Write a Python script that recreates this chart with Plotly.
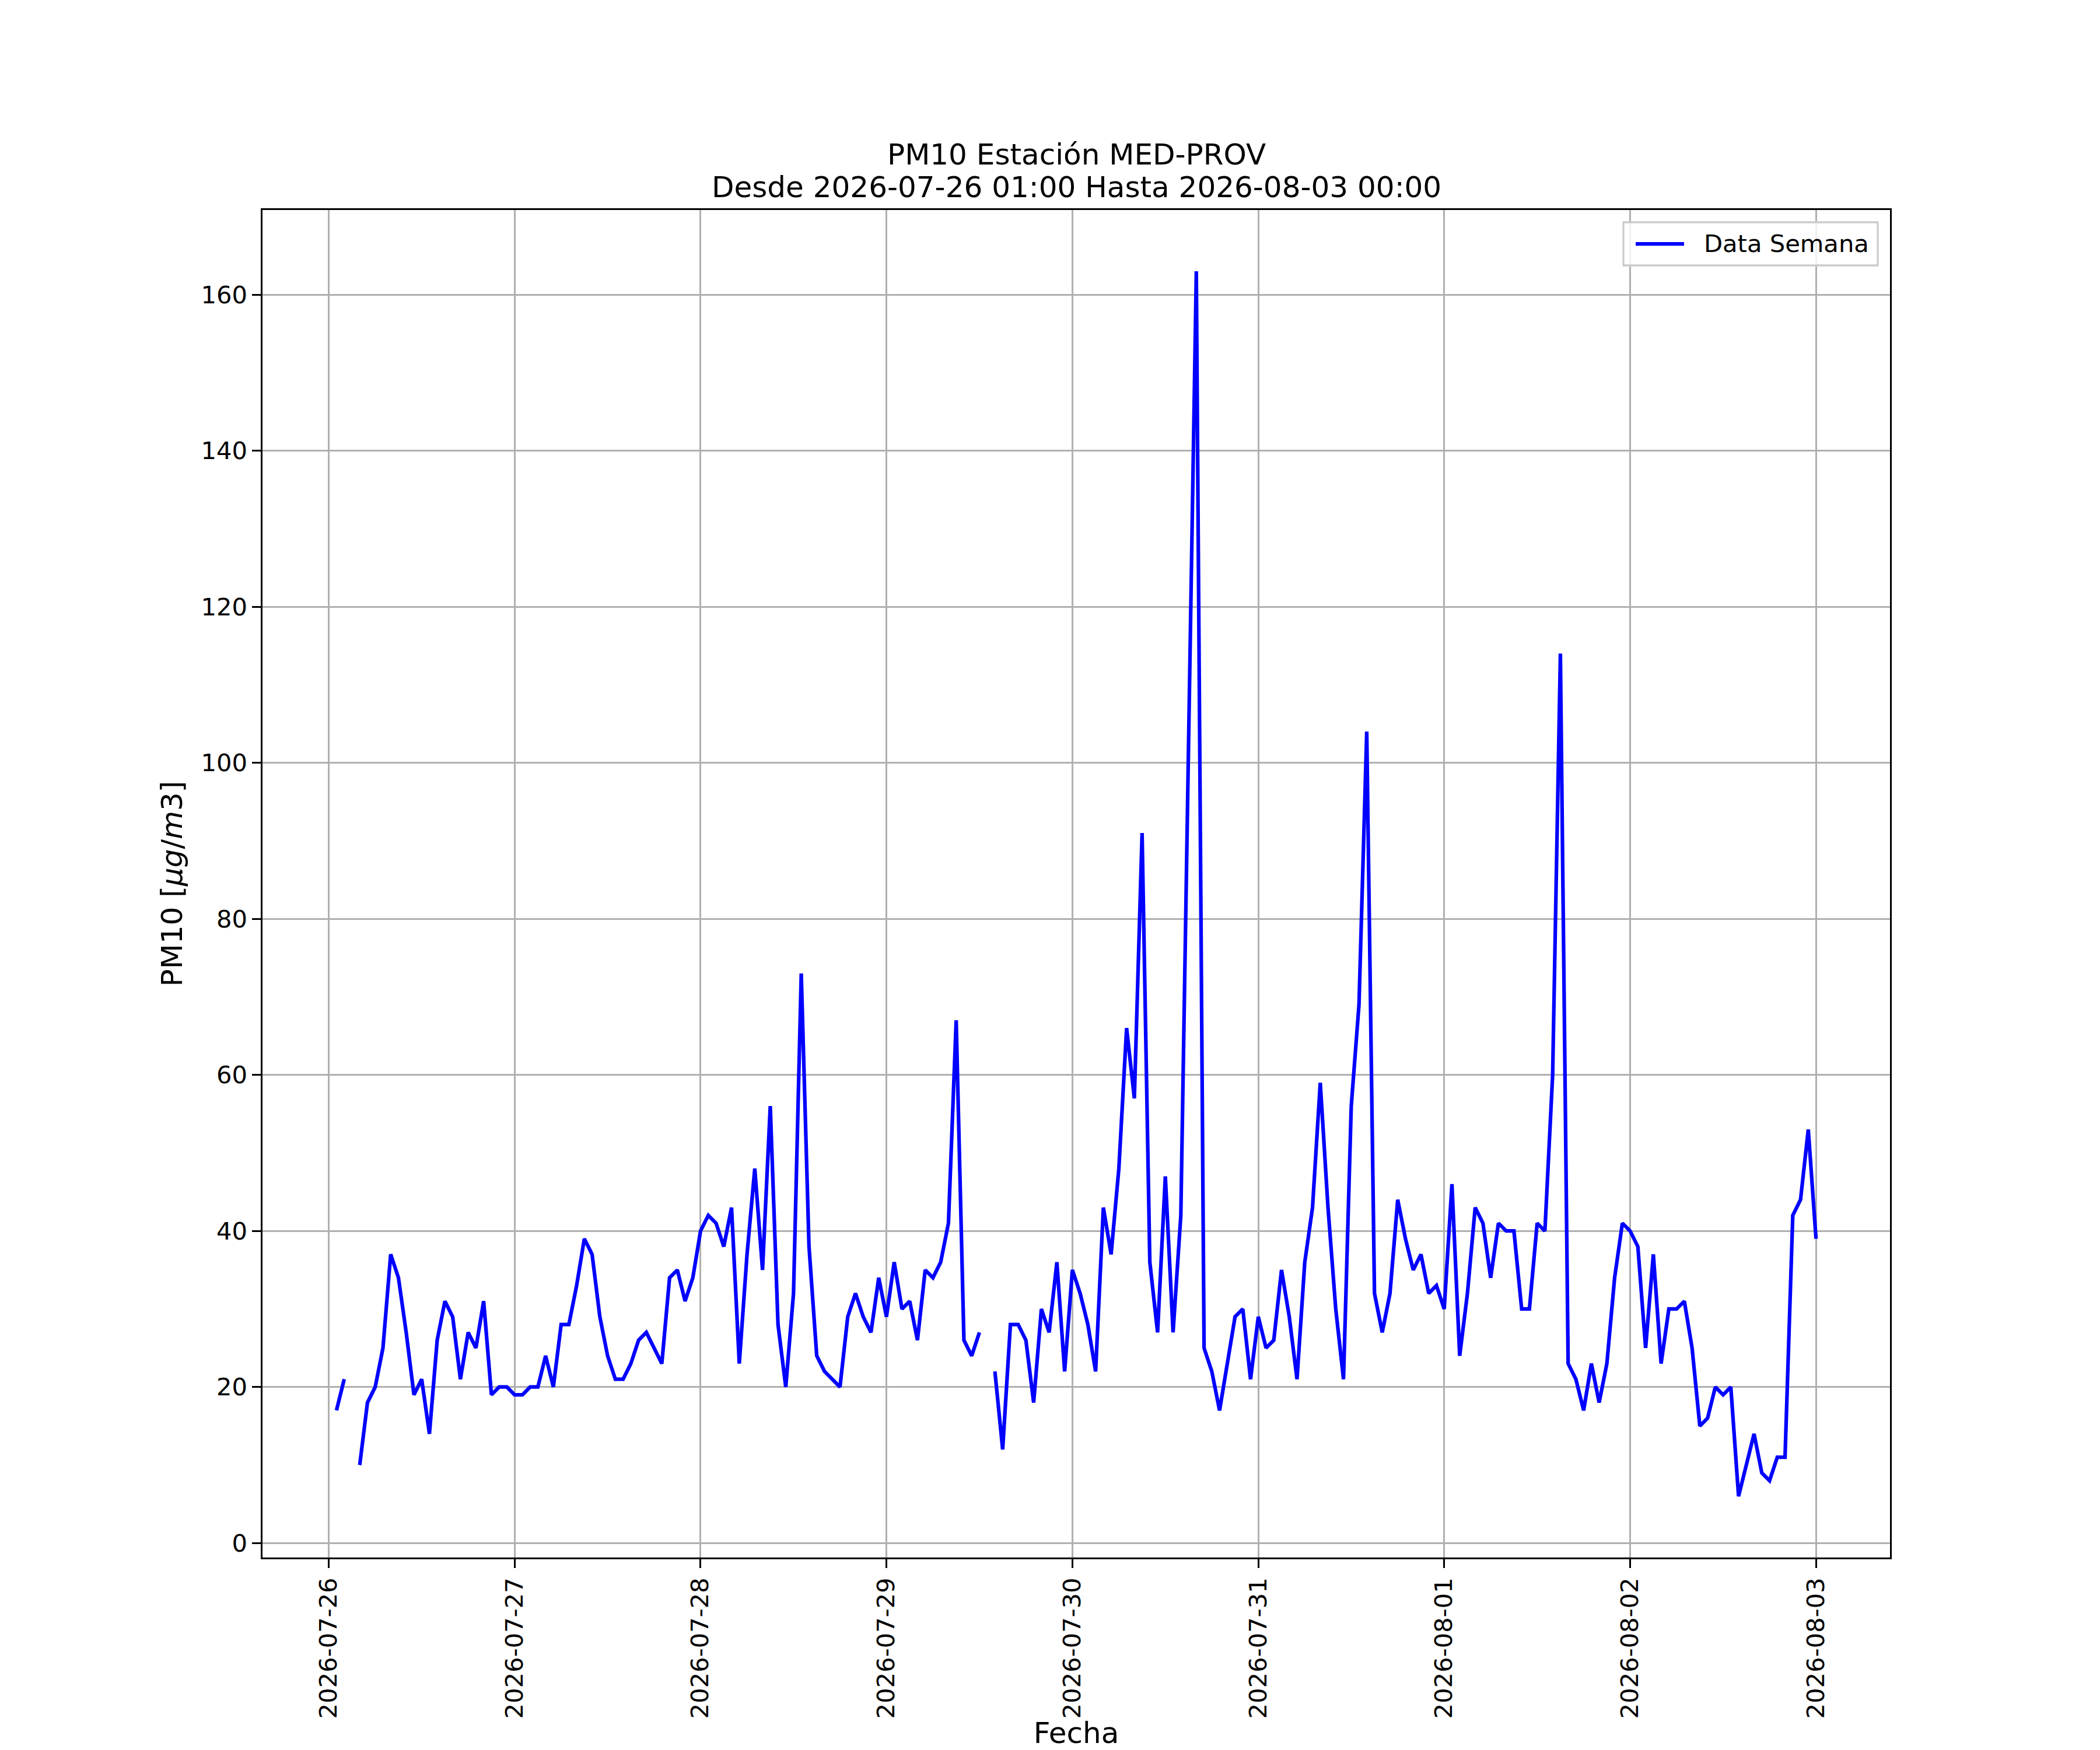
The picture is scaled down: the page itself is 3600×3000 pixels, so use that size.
import pandas as pd
import plotly.graph_objects as go

# ─────────────────────────────────────────────────────────────
# DATA  (hourly PM10, MED-PROV)
# ─────────────────────────────────────────────────────────────
start_time = "2026-07-26 01:00"
end_time = "2026-08-03 00:00"

# one list per day, hours 01..24 (None = missing value)
pm10_jul26 = [17, 21, None, 10, 18, 20, 25, 37, 34, 27, 19, 21,
              14, 26, 31, 29, 21, 27, 25, 31, 19, 20, 20, 19]
pm10_jul27 = [19, 20, 20, 24, 20, 28, 28, 33, 39, 37, 29, 24,
              21, 21, 23, 26, 27, 25, 23, 34, 35, 31, 34, 40]
pm10_jul28 = [42, 41, 38, 43, 23, 37, 48, 35, 56, 28, 20, 32,
              73, 38, 24, 22, 21, 20, 29, 32, 29, 27, 34, 29]
pm10_jul29 = [36, 30, 31, 26, 35, 34, 36, 41, 67, 26, 24, 27,
              None, 22, 12, 28, 28, 26, 18, 30, 27, 36, 22, 35]
pm10_jul30 = [32, 28, 22, 43, 37, 48, 66, 57, 91, 36, 27, 47,
              27, 42, 100, 163, 25, 22, 17, 23, 29, 30, 21, 29]
pm10_jul31 = [25, 26, 35, 29, 21, 36, 43, 59, 43, 30, 21, 56,
              69, 104, 32, 27, 32, 44, 39, 35, 37, 32, 33, 30]
pm10_aug01 = [46, 24, 32, 43, 41, 34, 41, 40, 40, 30, 30, 41,
              40, 60, 114, 23, 21, 17, 23, 18, 23, 34, 41, 40]
pm10_aug02 = [38, 25, 37, 23, 30, 30, 31, 25, 15, 16, 20, 19,
              20, 6, 10, 14, 9, 8, 11, 11, 42, 44, 53, 39]

pm10 = (pm10_jul26 + pm10_jul27 + pm10_jul28 + pm10_jul29
        + pm10_jul30 + pm10_jul31 + pm10_aug01 + pm10_aug02)
fechas = pd.date_range(start_time, end_time, freq="h")

titulo_1 = "PM10 Estación MED-PROV"
titulo_2 = f"Desde {start_time} Hasta {end_time}"
serie_nombre = "Data Semana"

# matplotlib-style 5% autoscale margins
x_pad = (fechas[-1] - fechas[0]) * 0.05
vals = [v for v in pm10 if v is not None]
y_pad = (max(vals) - min(vals)) * 0.05

# =========================================================
# FIGURE
# =========================================================
PT = 300 / 72  # figure drawn at 300 dpi
FONT = "DejaVu Sans"
W, H = 3600, 3000
ML, MR, MT, MB = 450, 360, 360, 330
PW, PH = W - ML - MR, H - MT - MB

fig = go.Figure()

fig.add_trace(go.Scatter(
    x=fechas,
    y=pm10,
    mode="lines",
    name=serie_nombre,
    line=dict(color="blue", width=1.5 * PT),
    connectgaps=False,
    showlegend=False
))

axis_common = dict(
    showline=True,
    linecolor="black",
    linewidth=0.8 * PT,
    mirror=True,
    ticks="outside",
    ticklen=3.5 * PT,
    tickwidth=0.8 * PT,
    tickcolor="black",
    showgrid=True,
    gridcolor="#b0b0b0",
    gridwidth=0.8 * PT,
    zeroline=False,
    tickfont=dict(family=FONT, size=10 * PT, color="black"),
)

# ---- legend drawn by hand (matplotlib "upper right" look) ----
pad = 21                       # borderaxespad in px
leg_w, leg_h = 436, 74
lx1 = 1 - pad / PW
lx0 = 1 - (pad + leg_w) / PW
ly1 = 1 - pad / PH
ly0 = 1 - (pad + leg_h) / PH
ly_mid = (ly0 + ly1) / 2

shapes = [
    dict(type="rect", xref="x domain", yref="y domain",
         x0=lx0, x1=lx1, y0=ly0, y1=ly1,
         fillcolor="rgba(255,255,255,0.8)",
         line=dict(color="#cccccc", width=0.8 * PT)),
    dict(type="line", xref="x domain", yref="y domain",
         x0=lx0 + 21 / PW, x1=lx0 + 104 / PW, y0=ly_mid, y1=ly_mid,
         line=dict(color="blue", width=1.5 * PT)),
]

annotations = [
    dict(text=serie_nombre, xref="x domain", yref="y domain",
         x=lx0 + 136 / PW, y=ly_mid, xanchor="left", yanchor="middle",
         showarrow=False, font=dict(family=FONT, size=10 * PT, color="black")),
    dict(text=titulo_1, xref="paper", yref="paper", x=0.5, y=1,
         xanchor="center", yanchor="middle", yshift=95, showarrow=False,
         font=dict(family=FONT, size=12 * PT, color="black")),
    dict(text=titulo_2, xref="paper", yref="paper", x=0.5, y=1,
         xanchor="center", yanchor="middle", yshift=39, showarrow=False,
         font=dict(family=FONT, size=12 * PT, color="black")),
]

fig.update_layout(
    width=W,
    height=H,
    margin=dict(l=ML, r=MR, t=MT, b=MB),
    template="none",
    paper_bgcolor="white",
    plot_bgcolor="white",
    font=dict(family=FONT, color="black"),
    xaxis=dict(
        axis_common,
        range=[fechas[0] - x_pad, fechas[-1] + x_pad],
        type="date",
        tick0="2026-07-26",
        dtick=86400000,
        tickformat="%Y-%m-%d",
        tickangle=-90,
        title=dict(text="Fecha", font=dict(family=FONT, size=12 * PT), standoff=4 * PT + 26),
        automargin=False
    ),
    yaxis=dict(
        axis_common,
        range=[min(vals) - y_pad, max(vals) + y_pad],
        tick0=0,
        dtick=20,
        title=dict(text="PM10 [<i>μg</i>/<i>m</i>3]", font=dict(family=FONT, size=12 * PT),
                   standoff=4 * PT),
        automargin=False
    ),
    shapes=shapes,
    annotations=annotations,
    showlegend=False
)

fig.write_html(
    "out.html",
    config={"displayModeBar": False},
    post_script="document.body.style.margin='0';"
)
